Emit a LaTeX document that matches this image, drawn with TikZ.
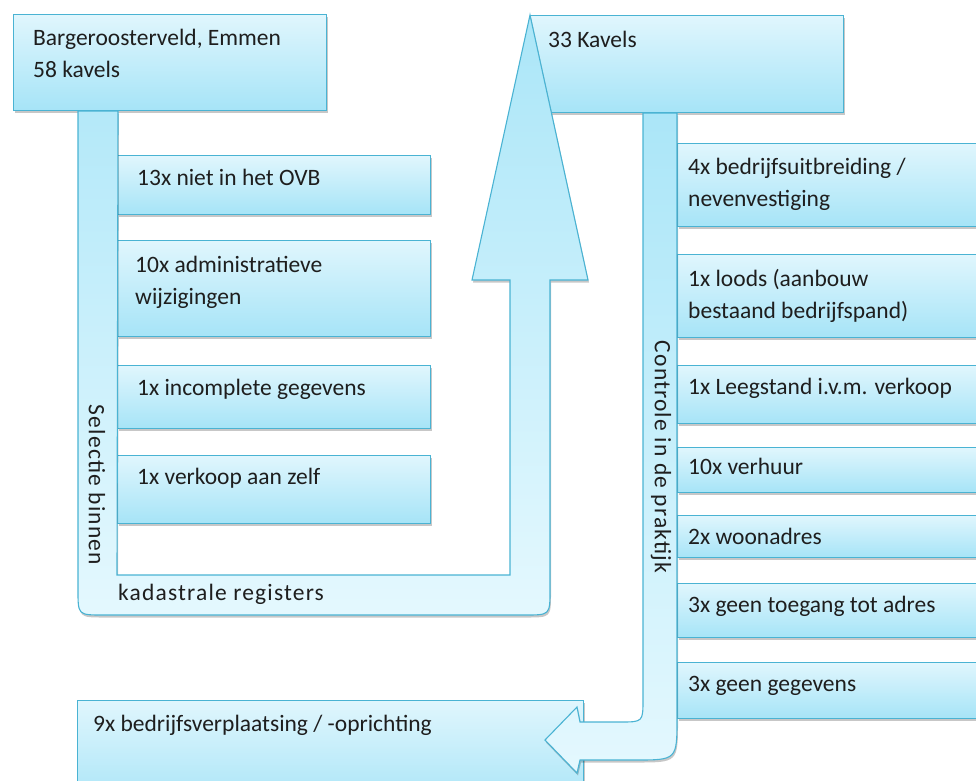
\documentclass[tikz,border=0pt]{standalone}
\usepackage{fontspec}
\setmainfont{Carlito}
\newfontfamily\spacedfont[LetterSpace=5]{Carlito}
\usetikzlibrary{shadows,calc}
\definecolor{edge}{HTML}{4AB3D3}
\definecolor{boxtop}{HTML}{E0F6FD}
\definecolor{boxbot}{HTML}{A6E4F7}
\definecolor{arrdark}{HTML}{ABE6F8}
\definecolor{arrlight}{HTML}{E4F8FE}
\definecolor{ink}{HTML}{1E1E1E}
\begin{document}
\begin{tikzpicture}[x=1pt,y=-1pt,
  shad/.style={drop shadow={shadow xshift=1pt, shadow yshift=-2.5pt, opacity=0.22, fill=black}},
  box/.style={draw=edge, line width=1.1pt, top color=boxtop, bottom color=boxbot, shad, inner sep=0pt, anchor=north west},
  lbl/.style={anchor=north west, inner sep=0pt, align=left, text=ink, font=\fontsize{23.5}{32}\selectfont},
  arrlbl/.style={inner sep=0pt, text=ink, font=\fontsize{23.5}{32}\selectfont\spacedfont},
  arrowshape/.style={draw=edge, line width=1.1pt, shad, line join=miter, top color=arrdark, bottom color=arrlight}
]
\useasboundingbox (0,0) rectangle (976,780);
\clip (0,0) rectangle (976,780);

% boxes
\node[box, minimum width=313pt, minimum height=96pt] (tl) at (13,14) {};
\node[box, minimum width=313pt, minimum height=97pt] (tr) at (530,15) {};

\node[box, minimum width=313pt, minimum height=59pt] (l1) at (117,155) {};
\node[box, minimum width=313pt, minimum height=96pt] (l2) at (117,240) {};
\node[box, minimum width=313pt, minimum height=63pt] (l3) at (117,365) {};
\node[box, minimum width=313pt, minimum height=68pt] (l4) at (117,455) {};

\node[box, minimum width=330pt, minimum height=83pt] (r1) at (677,143) {};
\node[box, minimum width=330pt, minimum height=83pt] (r2) at (677,254) {};
\node[box, minimum width=330pt, minimum height=58pt] (r3) at (677,365) {};
\node[box, minimum width=330pt, minimum height=45pt] (r4) at (677,447) {};
\node[box, minimum width=330pt, minimum height=42pt] (r5) at (677,515) {};
\node[box, minimum width=330pt, minimum height=54pt] (r6) at (677,583) {};
\node[box, minimum width=330pt, minimum height=56pt] (r7) at (677,662) {};

\node[box, minimum width=506pt, minimum height=110pt] (bt) at (77,700) {};

% left U-shaped arrow (selection)
\draw[arrowshape]
  ($(tl.south west)+(65,0)$) coordinate (ua) -- (78,590)
  .. controls (78,615) .. (103,615) -- (525,615)
  .. controls (550,615) .. (550,590) -- (550,280) -- (588,280)
  -- (tr.north west) -- (472,280) -- (510,280) -- (510,575)
  -- (l4.west |- 0,575) -- ($(tl.south west)+(105,0)$) coordinate (ub) -- cycle;

% right bent arrow (control)
\coordinate (rtip) at (545,740);
\draw[arrowshape]
  ($(tr.south west)+(113,0)$) coordinate (ra) -- (643,699)
  .. controls (643,722) .. (620,722) -- (580,722) -- (577,707)
  -- (rtip) -- (577,773) -- (580,760) -- (635,760)
  .. controls (677,760) .. (677,718) -- ($(tr.south west)+(147,0)$) coordinate (rb) -- cycle;

% texts
\node[lbl] (ttl) at (33,22.6) {\strut Bargeroosterveld, Emmen\\58 kavels};
\node[lbl] (ttr) at (548,24.6) {\strut 33 Kavels};
\node[lbl] (tl1) at (137,162.6) {\strut 13x niet in het OVB};
\node[lbl] (tl2) at (135,249.6) {\strut 10x administratieve\\wijzigingen};
\node[lbl] (tl3) at (137,372.6) {\strut 1x incomplete gegevens};
\node[lbl] (tl4) at (137,461.6) {\strut 1x verkoop aan zelf};
\node[lbl] (tr1) at (688,151.6) {\strut 4x bedrijfsuitbreiding /\\nevenvestiging};
\node[lbl] (tr2) at (688,263.6) {\strut 1x loods (aanbouw\\bestaand bedrijfspand)};
\node[lbl] (tr3) at (688,371.6) {\strut 1x Leegstand i.v.m. verkoop};
\node[lbl] (tr4) at (688,451.6) {\strut 10x verhuur};
\node[lbl] (tr5) at (688,521.6) {\strut 2x woonadres};
\node[lbl] (tr6) at (688,589.6) {\strut 3x geen toegang tot adres};
\node[lbl] (tr7) at (688,668.6) {\strut 3x geen gegevens};
\node[lbl] (tbt) at (93,708.6) {\strut 9x bedrijfsverplaatsing / -oprichting};

\node[arrlbl, rotate=-90] (sel) at (97,485) {Selectie binnen};
\node[arrlbl, anchor=base west] (kad) at (118,600) {kadastrale registers};
\node[arrlbl, rotate=-90] (con) at (661,457) {Controle in de praktijk};
\end{tikzpicture}
\end{document}
